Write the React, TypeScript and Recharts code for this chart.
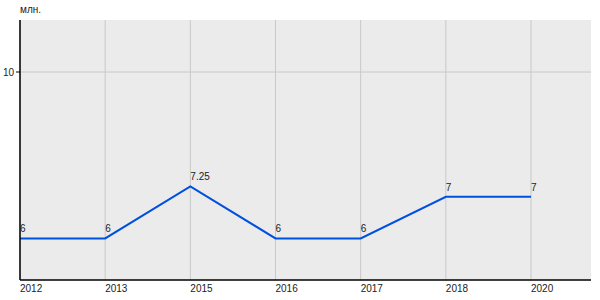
import { LineChart, Line, XAxis, YAxis, CartesianGrid, LabelList, ReferenceLine } from 'recharts';

const years = ['2012', '2013', '2015', '2016', '2017', '2018', '2020'];
const values = [6, 6, 7.25, 6, 6, 7, 7];
const yTicks = [10];

const data = years.map((year, i) => ({ year, value: values[i] }));

const font = 'Arial, "Liberation Sans", sans-serif';
const gridColor = '#c8c8c8';

function PointLabel(props: any) {
  const { x, y, value } = props;
  return (
    <text x={x} y={y - 6} fontSize={10} fontFamily={font} fill="#222" textAnchor="start">
      {value}
    </text>
  );
}

export default function App() {
  return (
    <div style={{ position: 'absolute', left: 0, top: 0, width: 600, height: 300, background: '#fff' }}>
      <div style={{ position: 'absolute', left: 20, top: 4, fontSize: 10, fontFamily: font, color: '#222' }}>млн.</div>
      <LineChart width={600} height={300} data={data} margin={{ top: 20, right: 9, bottom: 0, left: 0 }}>
        <CartesianGrid fill="#ebebeb" horizontal={false} vertical={false} />
        {years.map((y) => (
          <ReferenceLine key={y} x={y} stroke={gridColor} strokeWidth={1} />
        ))}
        {yTicks.map((t) => (
          <ReferenceLine key={t} y={t} stroke={gridColor} strokeWidth={1} />
        ))}
        <XAxis
          dataKey="year"
          type="category"
          padding={{ left: 0, right: 60 }}
          height={20}
          tickLine={false}
          tickSize={0}
          tickMargin={5}
          axisLine={{ stroke: '#000', strokeWidth: 1.5 }}
          tick={{ fontSize: 10, fontFamily: font, fill: '#222', textAnchor: 'start' }}
          interval={0}
        />
        <YAxis
          width={20}
          domain={[5, 11.25]}
          ticks={yTicks}
          allowDataOverflow
          tickSize={4}
          tickMargin={2}
          tickLine={{ stroke: '#000' }}
          axisLine={{ stroke: '#000', strokeWidth: 1.5 }}
          tick={{ fontSize: 10, fontFamily: font, fill: '#222' }}
        />
        <Line
          type="linear"
          dataKey="value"
          stroke="#0050e0"
          strokeWidth={2}
          dot={false}
          isAnimationActive={false}
        >
          <LabelList dataKey="value" content={<PointLabel />} />
        </Line>
      </LineChart>
    </div>
  );
}
